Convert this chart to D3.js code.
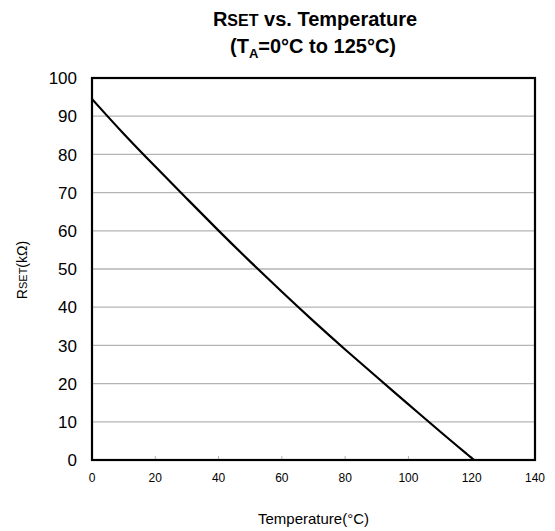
<!DOCTYPE html>
<html>
<head>
<meta charset="utf-8">
<script src="https://cdn.jsdelivr.net/npm/d3@7"></script>
<style>
  body { margin: 0; background: #fff; }
  text { font-family: "Liberation Sans", Arial, sans-serif; }
</style>
</head>
<body>
<script>
// curve
const temps = [0, 10, 20, 30, 40, 50, 60, 70, 80, 90, 100, 110, 120, 120.7];
const rset = [94.5, 85.3, 76.8, 68.4, 60.0, 51.9, 44.0, 36.3, 28.9, 21.7, 14.6, 7.4, 0.5, 0];
const xTicks = [0, 20, 40, 60, 80, 100, 120, 140];
const yTicks = [0, 10, 20, 30, 40, 50, 60, 70, 80, 90, 100];

const W = 555, H = 531;
const margin = { top: 78, right: 20, bottom: 71, left: 92 },
      width = W - margin.left - margin.right,
      height = H - margin.top - margin.bottom;

let svg = d3.select("body").append("svg")
    .attr("width", W)
    .attr("height", H);

let g = svg.append("g")
    .attr("transform", `translate(${margin.left}, ${margin.top})`);

let xScale = d3.scaleLinear().domain([0, 140]).range([0, width]);
let yScale = d3.scaleLinear().domain([0, 100]).range([height, 0]);

// gridlines
g.selectAll(".grid")
    .data(yTicks.filter(d => d > 0 && d < 100))
    .enter().append("line")
    .attr("x1", 0).attr("x2", width)
    .attr("y1", d => yScale(d)).attr("y2", d => yScale(d))
    .style("stroke", "#b4b4b4")
    .style("stroke-width", 1.3);

// small ticks on the bottom axis, pointing up
g.selectAll(".xtick")
    .data(xTicks.filter(d => d > 0 && d < 140))
    .enter().append("line")
    .attr("x1", d => xScale(d)).attr("x2", d => xScale(d))
    .attr("y1", height).attr("y2", height - 4)
    .style("stroke", "#b4b4b4")
    .style("stroke-width", 1);

// y tick labels
g.selectAll(".ylab")
    .data(yTicks)
    .enter().append("text")
    .attr("x", -15)
    .attr("y", d => yScale(d))
    .attr("dy", "0.36em")
    .attr("text-anchor", "end")
    .style("font-size", "17px")
    .text(d => d);

// x tick labels
g.selectAll(".xlab")
    .data(xTicks)
    .enter().append("text")
    .attr("x", d => xScale(d))
    .attr("y", height + 22)
    .attr("text-anchor", "middle")
    .style("font-size", "12px")
    .text(d => d);

// curve
let line = d3.line()
    .x((d, i) => xScale(temps[i]))
    .y(d => yScale(d))
    .curve(d3.curveBasis);

g.append("path")
    .datum(rset)
    .attr("d", line)
    .style("fill", "none")
    .style("stroke", "#000")
    .style("stroke-width", 2.2);

// frame
g.append("rect")
    .attr("width", width).attr("height", height)
    .style("fill", "none")
    .style("stroke", "#000")
    .style("stroke-width", 2.2);

// axis titles
svg.append("text")
    .attr("x", margin.left + width / 2)
    .attr("y", 524)
    .attr("text-anchor", "middle")
    .style("font-size", "15px")
    .text("Temperature(°C)");

let yt = svg.append("text")
    .attr("transform", "translate(27, 270) rotate(-90)")
    .attr("text-anchor", "middle")
    .style("font-size", "14px");
yt.append("tspan").text("R");
yt.append("tspan").style("font-size", "11px").text("SET");
yt.append("tspan").text("(kΩ)");

// title
let t1 = svg.append("text")
    .attr("x", 315).attr("y", 26)
    .attr("text-anchor", "middle")
    .style("font-size", "20px")
    .style("font-weight", "bold");
t1.append("tspan").text("R");
t1.append("tspan").style("font-size", "16px").text("SET");
t1.append("tspan").text(" vs. Temperature");

let t2 = svg.append("text")
    .attr("x", 313).attr("y", 53)
    .attr("text-anchor", "middle")
    .style("font-size", "20px")
    .style("font-weight", "bold");
t2.append("tspan").text("(T");
t2.append("tspan").attr("dy", 5).style("font-size", "13px").text("A");
t2.append("tspan").attr("dy", -5).text("=0°C to 125°C)");
</script>
</body>
</html>
